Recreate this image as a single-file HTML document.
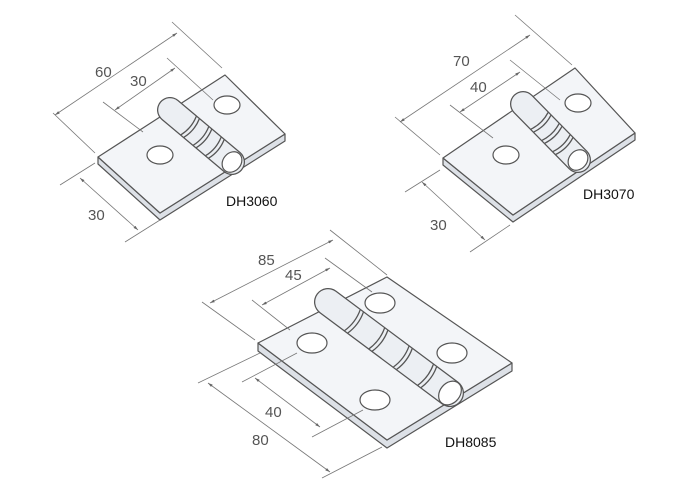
<!DOCTYPE html>
<html><head><meta charset="utf-8"><style>
body{margin:0;background:#fff}
svg{display:block}
text{font-family:"Liberation Sans",sans-serif;font-size:15px;fill:#555}
.lb{fill:#111;font-size:14px}
.d{stroke:#777;stroke-width:0.8;fill:none}
.p{fill:#f3f5f8;stroke:#555;stroke-width:1.2;stroke-linejoin:round}
.s{fill:#dde1e7;stroke:#555;stroke-width:1.2;stroke-linejoin:round}
.h{fill:#fff;stroke:#555;stroke-width:1.2}
.r{stroke:#555;fill:none;stroke-width:1.3}
</style></head><body>
<svg width="700" height="500" viewBox="0 0 700 500">
<defs>
<marker id="a" viewBox="0 0 10 10" refX="10" refY="5" markerWidth="6" markerHeight="6" orient="auto-start-reverse"><path d="M0,2L10,5L0,8z" fill="#666"/></marker>
</defs>

<!-- Hinge 1 -->
<g>
<polygon class="s" points="98,157 160,213 285,134 285,141 160,220 98,164"/>
<polygon class="p" points="98,157 160,213 285,134 225,75"/>
<line x1="170" y1="110" x2="232" y2="162" stroke="#555" stroke-width="26" stroke-linecap="round"/>
<line x1="170" y1="110" x2="232" y2="162" stroke="#eceff3" stroke-width="23.5" stroke-linecap="round"/>
<path class="r" d="M196.3,116.4 Q191.6,128.2 180.9,134.8 M199.3,118.9 Q194.6,130.7 183.9,137.3
M208.7,126.8 Q204,138.6 193.3,145.2 M211.7,129.3 Q207,141.1 196.3,147.7
M221.1,137.2 Q216.4,149 205.7,155.6 M224.1,139.7 Q219.4,151.5 208.7,158.1"/>
<ellipse cx="232" cy="162" rx="9" ry="11" transform="rotate(40 232 162)" class="h" fill="#e4e7ec"/>
<ellipse class="h" cx="160" cy="155" rx="13" ry="9"/>
<ellipse class="h" cx="227" cy="105" rx="13" ry="9"/>
<line class="d" x1="53" y1="113" x2="95" y2="153"/>
<line class="d" x1="172" y1="22" x2="222" y2="68"/>
<line class="d" x1="55" y1="115" x2="177" y2="33" marker-start="url(#a)" marker-end="url(#a)"/>
<line class="d" x1="103" y1="102" x2="143" y2="132"/>
<line class="d" x1="167" y1="58" x2="213" y2="100"/>
<line class="d" x1="115" y1="110" x2="175" y2="68" marker-start="url(#a)" marker-end="url(#a)"/>
<line class="d" x1="60" y1="185" x2="95" y2="163"/>
<line class="d" x1="125" y1="242" x2="160" y2="220"/>
<line class="d" x1="80" y1="178" x2="138" y2="230" marker-start="url(#a)" marker-end="url(#a)"/>
<text x="95" y="77">60</text><text x="130" y="86">30</text><text x="88" y="220">30</text>
<text class="lb" x="226" y="206">DH3060</text>
</g>

<!-- Hinge 2 -->
<g>
<polygon class="s" points="443,158 513,215 635,133 635,140 513,222 443,165"/>
<polygon class="p" points="443,158 513,215 635,133 575,68"/>
<line x1="523" y1="104" x2="578" y2="160" stroke="#555" stroke-width="26" stroke-linecap="round"/>
<line x1="523" y1="104" x2="578" y2="160" stroke="#eceff3" stroke-width="23.5" stroke-linecap="round"/>
<path class="r" d="M548.1,112.4 Q542.3,123.6 530.9,129.2 M550.9,115.3 Q545.1,126.5 533.7,132.1
M559.1,123.6 Q553.3,134.8 541.9,140.4 M561.9,126.5 Q556.1,137.7 544.7,143.3
M570.1,134.8 Q564.3,146 552.9,151.6 M572.9,137.7 Q567.1,148.9 555.7,154.5"/>
<ellipse cx="578" cy="160" rx="9" ry="11" transform="rotate(40 578 160)" class="h" fill="#e4e7ec"/>
<ellipse class="h" cx="506" cy="155" rx="13" ry="9"/>
<ellipse class="h" cx="578" cy="103" rx="13" ry="9"/>
<line class="d" x1="395" y1="117" x2="440" y2="155"/>
<line class="d" x1="515" y1="15" x2="572" y2="65"/>
<line class="d" x1="400" y1="122" x2="530" y2="35" marker-start="url(#a)" marker-end="url(#a)"/>
<line class="d" x1="450" y1="105" x2="493" y2="138"/>
<line class="d" x1="510" y1="60" x2="560" y2="100"/>
<line class="d" x1="460" y1="112" x2="520" y2="72" marker-start="url(#a)" marker-end="url(#a)"/>
<line class="d" x1="405" y1="192" x2="440" y2="170"/>
<line class="d" x1="470" y1="252" x2="510" y2="225"/>
<line class="d" x1="422" y1="182" x2="485" y2="240" marker-start="url(#a)" marker-end="url(#a)"/>
<text x="453" y="66">70</text><text x="470" y="92">40</text><text x="430" y="230">30</text>
<text class="lb" x="583" y="199">DH3070</text>
</g>

<!-- Hinge 3 -->
<g>
<polygon class="s" points="258,343 387,440 512,363 512,371 387,448 258,351"/>
<polygon class="p" points="258,343 387,440 512,363 387,277"/>
<line x1="328" y1="302" x2="450" y2="393" stroke="#555" stroke-width="28" stroke-linecap="round"/>
<line x1="328" y1="302" x2="450" y2="393" stroke="#eceff3" stroke-width="25.5" stroke-linecap="round"/>
<path class="r" d="M360.2,309.8 Q355.6,322.6 344.6,330.6 M363.4,312.2 Q358.8,325 347.8,333
M384.6,328 Q380,340.8 369,348.8 M387.8,330.4 Q383.2,343.2 372.2,351.2
M409,346.2 Q404.4,359 393.4,367 M412.2,348.6 Q407.6,361.4 396.6,369.4
M433.4,364.4 Q428.8,377.2 417.8,385.2 M436.6,366.8 Q432,379.6 421,387.6"/>
<ellipse cx="450" cy="393" rx="10" ry="13" transform="rotate(40 450 393)" class="h" fill="#e4e7ec"/>
<ellipse class="h" cx="312" cy="343" rx="15" ry="10"/>
<ellipse class="h" cx="380" cy="303" rx="15" ry="10"/>
<ellipse class="h" cx="375" cy="400" rx="15" ry="10"/>
<ellipse class="h" cx="452" cy="353" rx="15" ry="10"/>
<line class="d" x1="202" y1="302" x2="255" y2="340"/>
<line class="d" x1="330" y1="230" x2="387" y2="275"/>
<line class="d" x1="210" y1="303" x2="333" y2="240" marker-start="url(#a)" marker-end="url(#a)"/>
<line class="d" x1="252" y1="300" x2="290" y2="330"/>
<line class="d" x1="325" y1="258" x2="372" y2="292"/>
<line class="d" x1="262" y1="305" x2="330" y2="268" marker-start="url(#a)" marker-end="url(#a)"/>
<line class="d" x1="198" y1="383" x2="260" y2="353"/>
<line class="d" x1="242" y1="382" x2="297" y2="353"/>
<line class="d" x1="312" y1="437" x2="363" y2="410"/>
<line class="d" x1="322" y1="478" x2="382" y2="447"/>
<line class="d" x1="255" y1="378" x2="320" y2="427" marker-start="url(#a)" marker-end="url(#a)"/>
<line class="d" x1="208" y1="383" x2="330" y2="472" marker-start="url(#a)" marker-end="url(#a)"/>
<text x="258" y="265">85</text><text x="285" y="280">45</text><text x="265" y="417">40</text><text x="252" y="445">80</text>
<text class="lb" x="445" y="447">DH8085</text>
</g>
</svg>
</body></html>
